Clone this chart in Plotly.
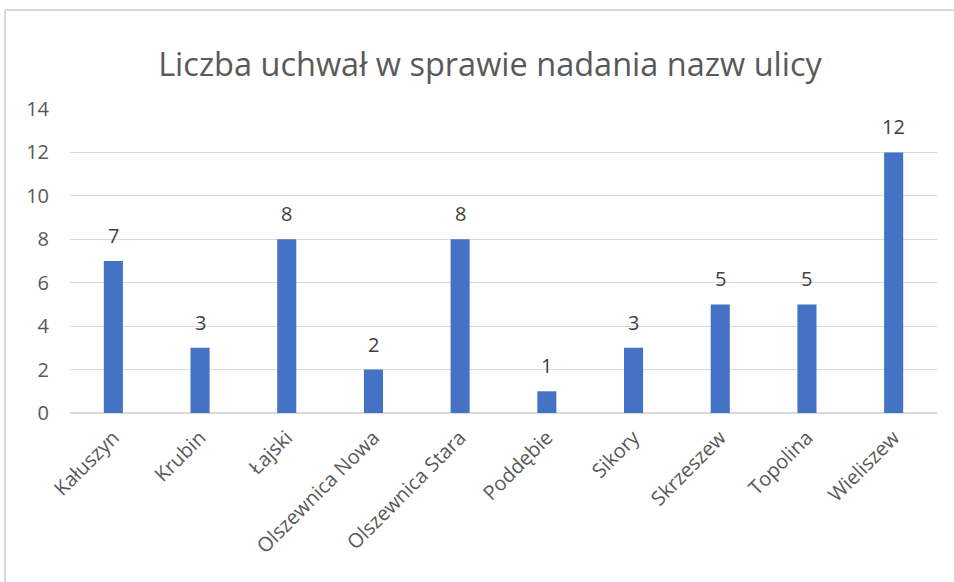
import plotly.graph_objects as go

categories = ["Kałuszyn", "Krubin", "Łajski", "Olszewnica Nowa", "Olszewnica Stara",
              "Poddębie", "Sikory", "Skrzeszew", "Topolina", "Wieliszew"]
values = [7, 3, 8, 2, 8, 1, 3, 5, 5, 12]
y_ticks = [0, 2, 4, 6, 8, 10, 12, 14]
title_text = "Liczba uchwał w sprawie nadania nazw ulicy"

# body margin is removed in the page, so the figure sits at (0, 0)
OFF = 0
W, H = 954, 582
ml, mt = 70 - OFF, 109 - OFF
mr = (W + OFF) - 937
mb = (H + OFF) - 413
pw, ph = W - ml - mr, H - mt - mb

def px_x(p):
    return (p - OFF - ml) / pw

def px_y(p):
    return 1 - (p - OFF - mt) / ph

FONT = "Open Sans"

fig = go.Figure()
fig.add_trace(go.Bar(
    x=categories, y=values,
    marker=dict(color="#4472C4", line=dict(width=0)),
    width=0.22,
    hoverinfo="x+y",
))

annotations = [
    dict(x=c, y=v, xref="x", yref="y", text=str(v), showarrow=False,
         yanchor="bottom", yshift=10,
         font=dict(family=FONT, size=20, color="#404040"))
    for c, v in zip(categories, values)
]

fig.update_layout(
    width=W, height=H,
    margin=dict(l=ml, r=mr, t=mt, b=mb, autoexpand=False),
    paper_bgcolor="white", plot_bgcolor="white",
    showlegend=False,
    title=dict(text=title_text, x=(490 - OFF) / W, xanchor="center", xref="container",
               y=1 - (65 - OFF) / H, yanchor="middle", yref="container",
               font=dict(family=FONT, size=32.5, color="#595959")),
    font=dict(family=FONT, color="#595959"),
    annotations=annotations,
    shapes=[
        dict(type="line", xref="paper", yref="paper",
             x0=px_x(5), x1=px_x(960), y0=px_y(10), y1=px_y(10),
             line=dict(color="#d9d9d9", width=2)),
        dict(type="line", xref="paper", yref="paper",
             x0=px_x(5), x1=px_x(5), y0=px_y(10), y1=px_y(600),
             line=dict(color="#d9d9d9", width=2)),
    ],
)
fig.update_xaxes(
    tickangle=-45, tickfont=dict(size=20, color="#595959"),
    showgrid=False, showline=False, ticks="", automargin=False,
    ticklabelstandoff=8,
)
fig.update_yaxes(
    range=[0, 14], tickvals=y_ticks, ticks="", automargin=False,
    tickfont=dict(size=20, color="#595959"),
    showgrid=True, gridcolor="#d9d9d9", gridwidth=1,
    zeroline=True, zerolinecolor="#d9d9d9", zerolinewidth=2,
    showline=False, ticklabelstandoff=20,
)
fig.write_html(
    "out.html",
    config={"displayModeBar": False},
    post_script="document.body.style.margin='0px';document.body.style.overflow='hidden';",
)
